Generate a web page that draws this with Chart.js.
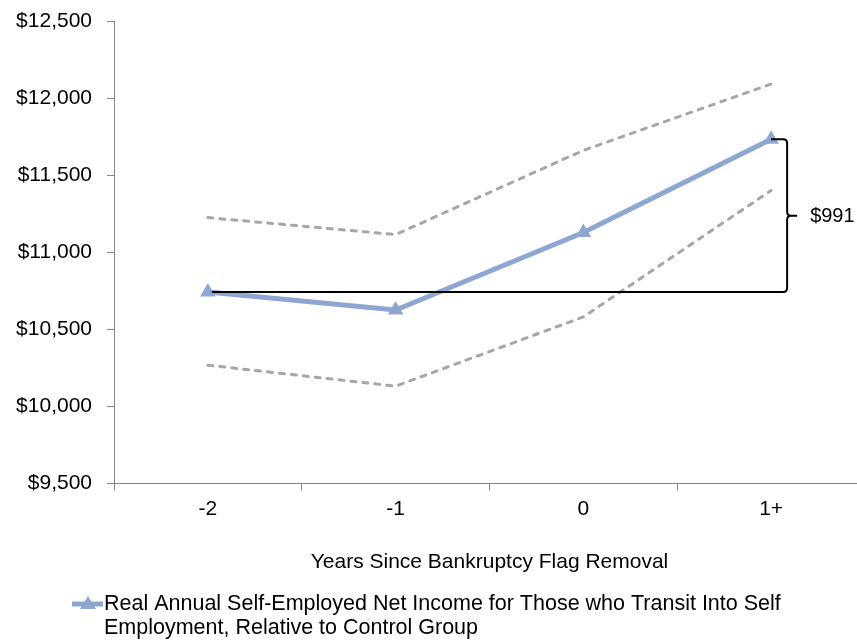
<!DOCTYPE html>
<html>
<head>
<meta charset="utf-8">
<script src="https://cdn.jsdelivr.net/npm/chart.js@4"></script>
<style>
  html, body { margin: 0; padding: 0; background: #fff; overflow: hidden; }
  canvas { display: block; }
</style>
</head>
<body>
<canvas id="grafico" width="874" height="641"></canvas>
<script>
// data
var anni = ["-2", "-1", "0", "1+"];
var reddito = [10742, 10626, 11128, 11733];
var limiteSup = [11225, 11115, 11661, 12091];
var limiteInf = [10268, 10132, 10581, 11401];
var titoloX = "Years Since Bankruptcy Flag Removal";
var legendaRighe = ["Real Annual Self-Employed Net Income for Those who Transit Into Self",
                    "Employment, Relative to Control Group"];

var font = "Liberation Sans";
var blu = "rgb(142, 166, 209)";
var grigio = "rgb(166, 166, 166)";

// parentesi con la differenza + legenda disegnata a mano (va a capo)
var extra = {
    id: "extra",
    afterDatasetsDraw: function (chart) {
        var c = chart.ctx;
        var xs = chart.scales.x, ys = chart.scales.y;
        var x0 = xs.getPixelForValue(0) + 4;
        var xp = xs.getPixelForValue(3);
        var xb = xp + 16;
        var yb = ys.getPixelForValue(reddito[0]);
        var yt = ys.getPixelForValue(reddito[3]);
        var ym = (yb + yt) / 2;
        var r = 4;
        c.save();
        c.strokeStyle = "#000";
        c.lineWidth = 2;
        c.beginPath();
        c.moveTo(x0, yb);
        c.lineTo(xb - r, yb);
        c.quadraticCurveTo(xb, yb, xb, yb - r);
        c.lineTo(xb, ym + r);
        c.quadraticCurveTo(xb, ym, xb + r, ym);
        c.lineTo(xb + 10, ym);
        c.moveTo(xb + r, ym);
        c.quadraticCurveTo(xb, ym, xb, ym - r);
        c.lineTo(xb, yt + r);
        c.quadraticCurveTo(xb, yt, xb - r, yt);
        c.lineTo(xp, yt);
        c.stroke();
        c.fillStyle = "#000";
        c.font = "20px '" + font + "'";
        c.textAlign = "left";
        c.textBaseline = "middle";
        c.fillText("$" + Math.round(reddito[3] - reddito[0]), xb + 23, ym + 1);

        // legenda
        var ly = 604;
        c.strokeStyle = blu;
        c.lineWidth = 5;
        c.beginPath();
        c.moveTo(72, ly);
        c.lineTo(103, ly);
        c.stroke();
        c.fillStyle = blu;
        c.beginPath();
        c.moveTo(88, ly - 8);
        c.lineTo(96, ly + 5);
        c.lineTo(80, ly + 5);
        c.closePath();
        c.fill();
        c.fillStyle = "#000";
        c.font = "21.5px '" + font + "'";
        c.fillText(legendaRighe[0], 104, ly);
        c.fillText(legendaRighe[1], 104, ly + 24);
        c.restore();
    }
};

var ctx = document.getElementById("grafico");
var grafico = new Chart(ctx, {
    type: "line",
    data: {
        labels: anni,
        datasets: [{
            label: legendaRighe.join(" "),
            data: reddito,
            borderColor: blu,
            backgroundColor: blu,
            borderWidth: 5,
            pointStyle: "triangle",
            pointRadius: 9,
            pointBorderWidth: 0,
            tension: 0
        }, {
            label: "sup",
            data: limiteSup,
            borderColor: grigio,
            borderWidth: 3,
            borderDash: [5, 7],
            borderCapStyle: "round",
            pointRadius: 0,
            tension: 0
        }, {
            label: "inf",
            data: limiteInf,
            borderColor: grigio,
            borderWidth: 3,
            borderDash: [5, 7],
            borderCapStyle: "round",
            pointRadius: 0,
            tension: 0
        }]
    },
    options: {
        responsive: false,
        animation: false,
        layout: { padding: { top: 21, right: 1, bottom: 66, left: 0 } },
        plugins: {
            legend: { display: false },
            tooltip: { enabled: false }
        },
        scales: {
            x: {
                offset: true,
                grid: { offset: true, drawOnChartArea: false, color: "#868686", tickLength: 7 },
                border: { color: "#868686", width: 1 },
                ticks: { color: "#000", font: { family: font, size: 21 }, padding: 6 },
                title: { display: true, text: titoloX, color: "#000", font: { family: font, size: 21 }, padding: { top: 22, bottom: 0 } }
            },
            y: {
                min: 9500,
                max: 12500,
                afterFit: function (s) { s.width = 114; s.paddingTop = 0; s.paddingBottom = 0; },
                grid: { drawOnChartArea: false, color: "#868686", tickLength: 7 },
                border: { color: "#868686", width: 1 },
                ticks: {
                    stepSize: 500,
                    color: "#000",
                    font: { family: font, size: 21 },
                    padding: 15,
                    callback: function (v) { return "$" + v.toLocaleString("en-US"); }
                }
            }
        }
    },
    plugins: [extra]
});
</script>
</body>
</html>
